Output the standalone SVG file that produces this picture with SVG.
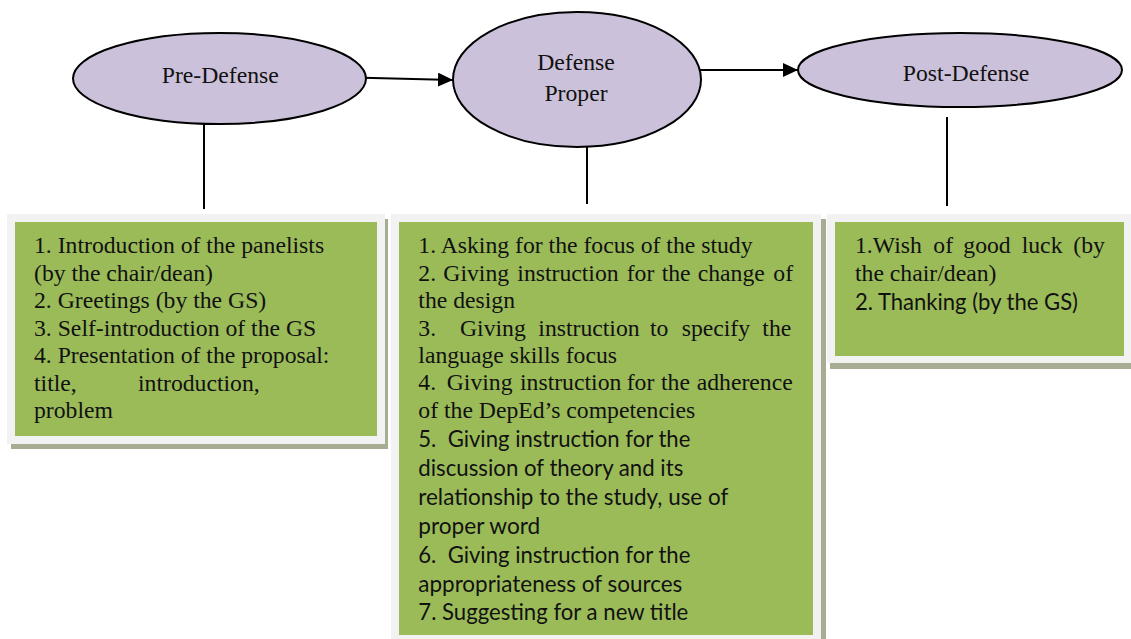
<svg xmlns="http://www.w3.org/2000/svg" width="1131" height="639" viewBox="0 0 1131 639">
<style>
.ell{fill:#ccc1da;stroke:#000;stroke-width:2}
.con{stroke:#000;stroke-width:2;fill:none}
.frame{fill:#f2f2f2}
.shadow{fill:#a6ad93}
.green{fill:#9bbb59}
.t{font-family:"Liberation Serif","Times New Roman",serif;font-size:23.7px;fill:#111;white-space:pre}
.c{font-family:Lato,"Liberation Sans",sans-serif;font-size:22.5px;fill:#111;white-space:pre}
.n{font-family:"Liberation Serif","Times New Roman",serif;font-size:23.7px;fill:#111;text-anchor:middle}
</style>
<defs>
<marker id="ah" markerUnits="userSpaceOnUse" markerWidth="16" markerHeight="16" refX="15" refY="7" orient="auto">
<path d="M0,0 L15,7 L0,14 Z" fill="#000"/>
</marker>
<clipPath id="clip2"><rect x="391" y="214" width="430" height="412"/></clipPath>
</defs>

<g id="connectors">
<line class="con" x1="363" y1="77.7" x2="453" y2="80" marker-end="url(#ah)"/>
<line class="con" x1="700" y1="70" x2="798" y2="70" marker-end="url(#ah)"/>
<line class="con" x1="204" y1="122" x2="204" y2="209"/>
<line class="con" x1="587" y1="147" x2="587" y2="204"/>
<line class="con" x1="947" y1="117" x2="947" y2="206"/>
</g>

<g id="pre-defense">
<ellipse class="ell" cx="219.5" cy="78.5" rx="146.5" ry="45.5"/>
<text class="n" x="220.3" y="83">Pre-Defense</text>
</g>

<g id="defense-proper">
<ellipse class="ell" cx="577" cy="79.5" rx="124" ry="67.5"/>
<text class="n" x="576" y="70">Defense</text>
<text class="n" x="576" y="101">Proper</text>
</g>

<g id="post-defense">
<ellipse class="ell" cx="960" cy="70" rx="162" ry="37"/>
<text class="n" x="966" y="81">Post-Defense</text>
</g>

<g id="pre-defense-box">
<rect class="shadow" x="11" y="219" width="377" height="230"/>
<rect class="frame" x="7" y="214" width="378" height="230"/>
<rect class="green" x="15" y="222" width="362" height="214"/>
<text class="t" x="34" y="253">1. Introduction of the panelists</text>
<text class="t" x="34" y="281">(by the chair/dean)</text>
<text class="t" x="34" y="308">2. Greetings (by the GS)</text>
<text class="t" x="34" y="336">3. Self-introduction of the GS</text>
<text class="t" x="34" y="363">4. Presentation of the proposal:</text>
<text class="t" y="391"><tspan x="34">title,</tspan><tspan x="138">introduction,</tspan></text>
<text class="t" x="34" y="418">problem</text>
</g>

<g id="defense-proper-box">
<rect class="shadow" x="396" y="219" width="430" height="430"/>
<rect class="frame" x="391" y="214" width="430" height="435"/>
<rect class="green" x="399" y="222" width="414" height="413"/>
<g clip-path="url(#clip2)">
<text class="t" x="418.3" y="253">1. Asking for the focus of the study</text>
<text class="t" y="281"><tspan x="418.3">2.</tspan><tspan x="443.3">Giving</tspan><tspan x="517.3">instruction</tspan><tspan x="626.7">for</tspan><tspan x="661.7">the</tspan><tspan x="697.7">change</tspan><tspan x="773.3">of</tspan></text>
<text class="t" x="418.3" y="308">the design</text>
<text class="t" y="336"><tspan x="418.3">3.</tspan><tspan x="460">Giving</tspan><tspan x="538.3">instruction</tspan><tspan x="650">to</tspan><tspan x="681.7">specify</tspan><tspan x="762.3">the</tspan></text>
<text class="t" x="418.3" y="363">language skills focus</text>
<text class="t" y="390"><tspan x="418.3">4.</tspan><tspan x="446.7">Giving</tspan><tspan x="520">instruction</tspan><tspan x="626.7">for</tspan><tspan x="661">the</tspan><tspan x="696.7">adherence</tspan></text>
<text class="t" x="418.3" y="418">of the DepEd’s competencies</text>
<text class="c" x="418.3" y="447" textLength="272" lengthAdjust="spacingAndGlyphs">5.  Giving instruction for the</text>
<text class="c" x="418.3" y="476" textLength="265" lengthAdjust="spacingAndGlyphs">discussion of theory and its</text>
<text class="c" x="418.3" y="505" textLength="310" lengthAdjust="spacingAndGlyphs">relationship to the study, use of</text>
<text class="c" x="418.3" y="534" textLength="122" lengthAdjust="spacingAndGlyphs">proper word</text>
<text class="c" x="418.3" y="563" textLength="272" lengthAdjust="spacingAndGlyphs">6.  Giving instruction for the</text>
<text class="c" x="418.3" y="592" textLength="264" lengthAdjust="spacingAndGlyphs">appropriateness of sources</text>
<text class="c" x="418.3" y="620" textLength="270" lengthAdjust="spacingAndGlyphs">7. Suggesting for a new title</text>
</g>
</g>

<g id="post-defense-box">
<rect class="shadow" x="830" y="219" width="310" height="150"/>
<rect class="frame" x="827" y="214" width="310" height="149"/>
<rect class="green" x="835" y="222" width="289" height="134"/>
<text class="t" y="253"><tspan x="855">1.Wish</tspan><tspan x="933.3">of</tspan><tspan x="963.3">good</tspan><tspan x="1021.7">luck</tspan><tspan x="1073.3">(by</tspan></text>
<text class="t" x="855" y="281">the chair/dean)</text>
<text class="c" x="855" y="310" textLength="223" lengthAdjust="spacingAndGlyphs">2. Thanking (by the GS)</text>
</g>
</svg>
